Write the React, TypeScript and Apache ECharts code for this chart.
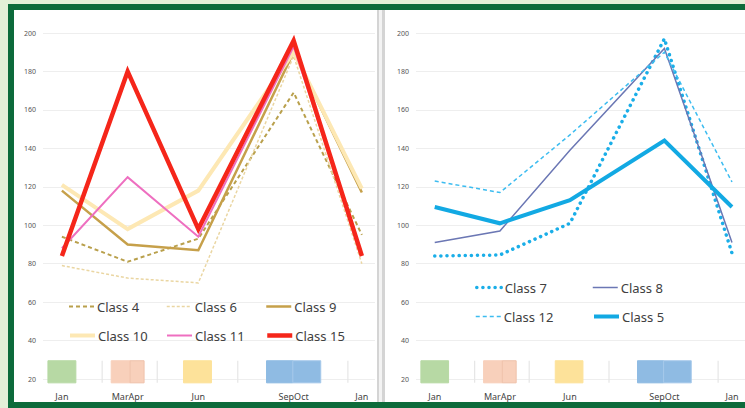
import React, { useEffect, useRef } from "react";
import * as echarts from "echarts";

// x positions are day-of-year of each observation period
const periodDays = [0, 80, 166, 282, 365];
const periodLabels = ["Jan", "MarApr", "Jun", "SepOct", "Jan"];

// left panel series
const class4 = [94, 81, 93, 169, 95];
const class6 = [79, 72.5, 70, 188, 80];
const class9 = [118, 90, 87, 190, 117];
const class10 = [121, 98, 118, 190, 119];
const class11 = [88, 125, 94, 193, 85];
const class15 = [84, 180, 98, 196, 84];

// right panel series
const class7 = [84, 84.5, 101, 197, 85.5];
const class8 = [91, 97, 139, 192, 91];
const class12 = [123, 117, 147, 190, 122.5];
const class5 = [109.5, 101, 113, 144, 109.5];

// season bands (day ranges) under the plot
const bandStart = [-17, 60, 83, 148, 249, 281];
const bandEnd = [17, 83, 100, 182, 281, 315];
const bandColor = ["#b7d9a4", "#f8d0bb", "#f8d0bb", "#fde29a", "#8fbbe3", "#8fbbe3"];
const bandStroke = ["#b7d9a4", "#f8d0bb", "#efc2ab", "#fde29a", "#8fbbe3", "#a6c9ea"];
const sepDays = [49, 116, 214, 348];

const BAND_TOP = 29.5;
const BAND_BOTTOM = 18;

const pairs = (vals: number[]) => vals.map((v, i) => [periodDays[i], v]);

export default function App() {
  const ref = useRef<HTMLDivElement>(null);
  useEffect(() => {
    if (!ref.current) return;
    const chart = echarts.init(ref.current, undefined, { renderer: "svg" });

    const grids = [
      { left: 43, top: 33, width: 332, height: 346 },
      { left: 416, top: 33, width: 336, height: 346 },
    ];

    const xAxes = [0, 1].map((i) => ({
      type: "value",
      gridIndex: i,
      min: -23,
      max: 381,
      axisLine: { show: false },
      axisTick: { show: false },
      splitLine: { show: false },
      axisLabel: {
        customValues: periodDays,
        formatter: (v: number) => periodLabels[periodDays.indexOf(v)] ?? "",
        fontSize: 9,
        color: "#444",
        margin: 13,
        fontFamily: "Noto Sans",
      },
    }));

    const yAxes = [0, 1].map((i) => ({
      type: "value",
      gridIndex: i,
      min: 20,
      max: 200,
      interval: 20,
      axisLine: { show: false },
      axisTick: { show: false },
      splitLine: { lineStyle: { color: "#eeeeee", width: 1 } },
      axisLabel: { fontSize: 7, color: "#555", margin: 7, fontFamily: "Noto Sans" },
    }));

    const bandData = bandStart.map((s, i) => [s, bandEnd[i], i]);
    const sepData = sepDays.map((d) => [d]);

    const bandSeries = (i: number) => ({
      type: "custom",
      xAxisIndex: i,
      yAxisIndex: i,
      silent: true,
      clip: false,
      data: bandData,
      renderItem: (_p: any, api: any) => {
        const idx = api.value(2);
        const a = api.coord([api.value(0), BAND_TOP]);
        const b = api.coord([api.value(1), BAND_BOTTOM]);
        return {
          type: "rect",
          shape: { x: a[0], y: a[1], width: b[0] - a[0], height: b[1] - a[1] },
          style: { fill: bandColor[idx], stroke: bandStroke[idx], lineWidth: 1 },
        };
      },
      z: 1,
    });

    const sepSeries = (i: number) => ({
      type: "custom",
      xAxisIndex: i,
      yAxisIndex: i,
      silent: true,
      clip: false,
      data: sepData,
      renderItem: (_p: any, api: any) => {
        const a = api.coord([api.value(0), BAND_TOP]);
        const b = api.coord([api.value(0), BAND_BOTTOM]);
        return {
          type: "line",
          shape: { x1: a[0], y1: a[1], x2: b[0], y2: b[1] },
          style: { stroke: "#e6e6e6", lineWidth: 1.2 },
        };
      },
      z: 1,
    });

    const line = (name: string, vals: number[], grid: number, color: string, width: number, type: any, cap = "butt") => ({
      name,
      type: "line",
      xAxisIndex: grid,
      yAxisIndex: grid,
      data: pairs(vals),
      symbol: "none",
      lineStyle: { color, width, type, cap, join: "miter" },
      itemStyle: { color },
      z: 3,
    });

    const series = [
      bandSeries(0),
      sepSeries(0),
      bandSeries(1),
      sepSeries(1),
      line("Class 4", class4, 0, "#b9a04c", 2, [4, 3]),
      line("Class 6", class6, 0, "#ead6a2", 1.5, [3, 2]),
      line("Class 9", class9, 0, "#c6a04a", 2.5, "solid"),
      line("Class 10", class10, 0, "#fde8b4", 4, "solid"),
      line("Class 11", class11, 0, "#ee6fc0", 2, "solid"),
      line("Class 15", class15, 0, "#f5261a", 4.5, "solid"),
      line("Class 7", class7, 1, "#1aaee8", 3.5, [0.1, 6], "round"),
      line("Class 8", class8, 1, "#6b77b4", 1.5, "solid"),
      line("Class 12", class12, 1, "#3cbcf0", 1.5, [4, 3]),
      line("Class 5", class5, 1, "#12a9e3", 4, "solid"),
    ];

    const legendPos: [string, number, number][] = [
      ["Class 4", 68, 300],
      ["Class 6", 166, 300],
      ["Class 9", 265, 300],
      ["Class 10", 68, 329],
      ["Class 11", 166, 329],
      ["Class 15", 265, 329],
      ["Class 7", 475, 281],
      ["Class 8", 592, 281],
      ["Class 12", 475, 310],
      ["Class 5", 592, 310],
    ];

    const legend = legendPos.map(([name, left, top]) => ({
      data: [name],
      left,
      top,
      padding: 0,
      itemWidth: 25,
      itemHeight: 12,
      itemGap: 0,
      selectedMode: false,
      itemStyle: { opacity: 0, color: "transparent", borderWidth: 0 },
      lineStyle: { width: "inherit", type: "inherit" },
      textStyle: { fontSize: 13, color: "#404040", fontFamily: "Noto Sans", padding: [0, 0, 0, -2] },
    }));

    chart.setOption({
      animation: false,
      grid: grids,
      xAxis: xAxes,
      yAxis: yAxes,
      legend,
      series,
    });
    return () => chart.dispose();
  }, []);

  const abs = (s: React.CSSProperties): React.CSSProperties => ({ position: "absolute", ...s });

  return (
    <div style={{ position: "fixed", left: 0, top: 0, width: 745, height: 408, overflow: "hidden", background: "#e4f0d8" }}>
      <div style={abs({ left: 8, top: 4, width: 740, height: 404, background: "#0d6b3b" })} />
      <div style={abs({ left: 14, top: 10, width: 735, height: 392, background: "#ffffff" })} />
      <div style={abs({ left: 377, top: 10, width: 8, height: 392, background: "#d4d4d4" })} />
      <div style={abs({ left: 379, top: 10, width: 3, height: 392, background: "#f3f3f3" })} />
      <div ref={ref} style={abs({ left: 0, top: 0, width: 745, height: 408 })} />
    </div>
  );
}
